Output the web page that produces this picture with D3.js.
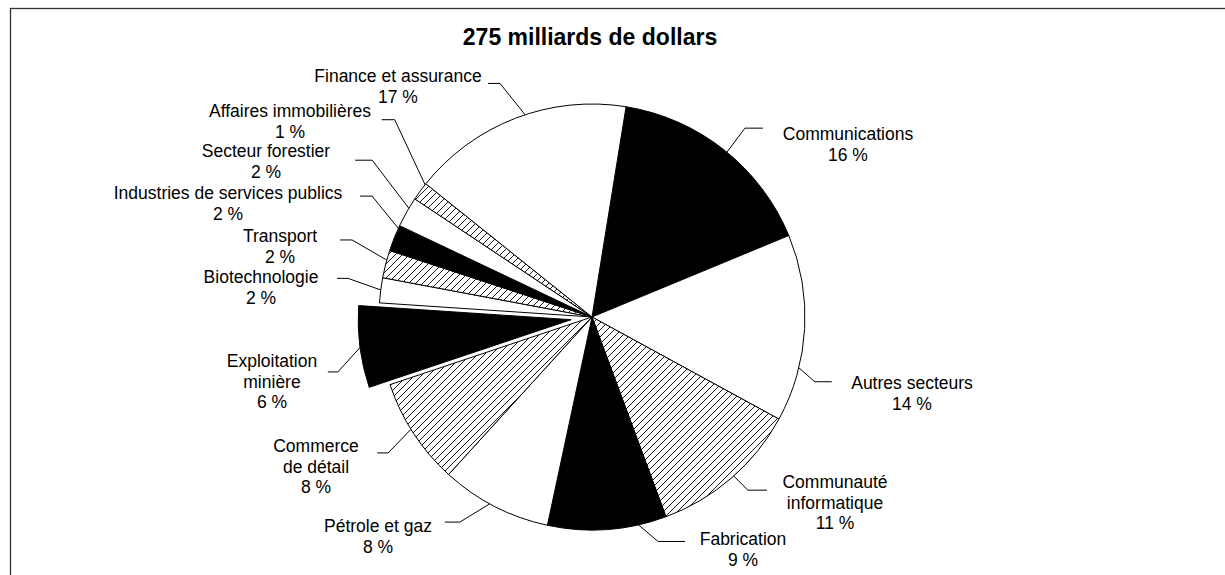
<!DOCTYPE html>
<html>
<head>
<meta charset="utf-8">
<script src="https://cdn.jsdelivr.net/npm/d3@7"></script>
<style>
  html, body { margin: 0; padding: 0; background: #fff; }
  svg { display: block; }
  text { font-family: "Liberation Sans", Arial, sans-serif; fill: #000; }
</style>
</head>
<body>
<svg id="chart" width="1225" height="575"></svg>
<script>
// ---- data (clockwise from the Communications slice) ----
const categories = [
  "Communications", "Autres secteurs", "Communauté informatique", "Fabrication",
  "Pétrole et gaz", "Commerce de détail", "Exploitation minière", "Biotechnologie",
  "Transport", "Industries de services publics", "Secteur forestier",
  "Affaires immobilières", "Finance et assurance"
];
const shares = [16.2, 14.2, 11.4, 9.0, 8.4, 8.1, 6.2, 1.9, 2.1, 2.0, 2.3, 1.4, 16.8];
const pctLabels = ["16 %", "14 %", "11 %", "9 %", "8 %", "8 %", "6 %", "2 %", "2 %", "2 %", "2 %", "1 %", "17 %"];
const labelLines = [
  ["Communications"], ["Autres secteurs"], ["Communauté", "informatique"], ["Fabrication"],
  ["Pétrole et gaz"], ["Commerce", "de détail"], ["Exploitation", "minière"], ["Biotechnologie"],
  ["Transport"], ["Industries de services publics"], ["Secteur forestier"],
  ["Affaires immobilières"], ["Finance et assurance"]
];
const fills = ["black", "white", "hatch", "black", "white", "hatch", "black", "white",
               "hatch", "black", "white", "hatch", "white"];
const exploded = ["Exploitation minière"];
const title = "275 milliards de dollars";

// ---- layout ----
const W = 1225, H = 575;
const cx = 592, cy = 317, R = 213, explodeDist = 21;
const startDeg = 9.2;
const lineH = 20.5;
// label layout: leader start angle (deg), elbow angle (deg) & radius, horizontal run, text centre x & first baseline
const labelLayout = {
  "Communications":               {a: 39.3,  ea: 39.0,  er: 243, h: 18,  tx: 848, ty: 140},
  "Autres secteurs":              {a: 103.8, ea: 106.2, er: 232, h: 17,  tx: 912, ty: 389},
  "Communauté informatique":      {a: 138.3, ea: 138.0, er: 233, h: 19,  tx: 835, ty: 488},
  "Fabrication":                  {a: 167.4, ea: 163.6, er: 234, h: 27,  tx: 743, ty: 545},
  "Pétrole et gaz":               {a: 208.7, ea: 212.8, er: 244, h: -15, tx: 378, ty: 532},
  "Commerce de détail":           {a: 238.2, ea: 236.3, er: 245, h: -11, tx: 316, ty: 452},
  "Exploitation minière":         {a: 262.5, ea: 257.8, er: 260, h: -10, tx: 272, ty: 367},
  "Biotechnologie":               {a: 277.3, ea: 279.0, er: 247, h: -11, tx: 261, ty: 283},
  "Transport":                    {a: 285.5, ea: 287.8, er: 252, h: -12, tx: 280, ty: 242},
  "Industries de services publics": {a: 294.6, ea: 298.8, er: 251, h: -12, tx: 228, ty: 199},
  "Secteur forestier":            {a: 300.7, ea: 305.5, er: 270, h: -17, tx: 266, ty: 157},
  "Affaires immobilières":        {a: 308.4, ea: 315.0, er: 279, h: -13, tx: 290, ty: 117},
  "Finance et assurance":         {a: 341.7, ea: 338.5, er: 251, h: -12, tx: 398, ty: 82}
};

const svg = d3.select("#chart");
const rad = d => d * Math.PI / 180;
const polar = (angDeg, r) => [cx + r * Math.sin(rad(angDeg)), cy - r * Math.cos(rad(angDeg))];

// hatch pattern
const defs = svg.append("defs");
defs.append("pattern")
  .attr("id", "hatch").attr("patternUnits", "userSpaceOnUse")
  .attr("width", 7).attr("height", 7)
  .call(p => {
    p.append("rect").attr("width", 7).attr("height", 7).attr("fill", "white");
    p.append("path").attr("d", "M0,7 L7,0 M-1,1 L1,-1 M6,8 L8,6")
      .attr("stroke", "black").attr("stroke-width", 0.9);
  });

// frame
svg.append("rect").attr("x", 10.5).attr("y", 8.5).attr("width", 1400).attr("height", 800)
  .attr("fill", "none").attr("stroke", "#333").attr("stroke-width", 1.3);

// title
svg.append("text").attr("x", 590).attr("y", 45).attr("text-anchor", "middle")
  .style("font-weight", "bold").style("font-size", "23px").text(title);

const data = categories.map((c, i) => ({cat: c, value: shares[i], pct: pctLabels[i], lines: labelLines[i], fill: fills[i]}));

const pie = d3.pie().value(d => d.value).sort(null)
  .startAngle(rad(startDeg)).endAngle(rad(startDeg + 360));
const arcs = pie(data);
const arcGen = d3.arc().innerRadius(0).outerRadius(R);

const g = svg.append("g").attr("transform", `translate(${cx},${cy})`);
g.selectAll("path.slice").data(arcs).join("path")
  .attr("class", "slice")
  .attr("transform", d => {
    if (!exploded.includes(d.data.cat)) return null;
    const m = (d.startAngle + d.endAngle) / 2;
    return `translate(${explodeDist * Math.sin(m)},${-explodeDist * Math.cos(m)})`;
  })
  .attr("d", arcGen)
  .attr("fill", d => d.data.fill === "hatch" ? "url(#hatch)" : d.data.fill)
  .attr("stroke", "black").attr("stroke-width", 1).attr("stroke-linejoin", "round");

// leaders and labels
arcs.forEach(d => {
  const L = labelLayout[d.data.cat];
  const rStart = exploded.includes(d.data.cat) ? R + explodeDist : R;
  const p0 = polar(L.a, rStart);
  const p1 = polar(L.ea, L.er);
  const p2 = [p1[0] + L.h, p1[1]];
  svg.append("path").attr("d", d3.line()([p0, p1, p2]))
    .attr("fill", "none").attr("stroke", "black").attr("stroke-width", 1);
  const t = svg.append("text").attr("text-anchor", "middle").style("font-size", "17.5px");
  d.data.lines.concat([d.data.pct]).forEach((ln, i) => {
    t.append("tspan").attr("x", L.tx).attr("y", L.ty + i * lineH).text(ln);
  });
});
</script>
</body>
</html>
